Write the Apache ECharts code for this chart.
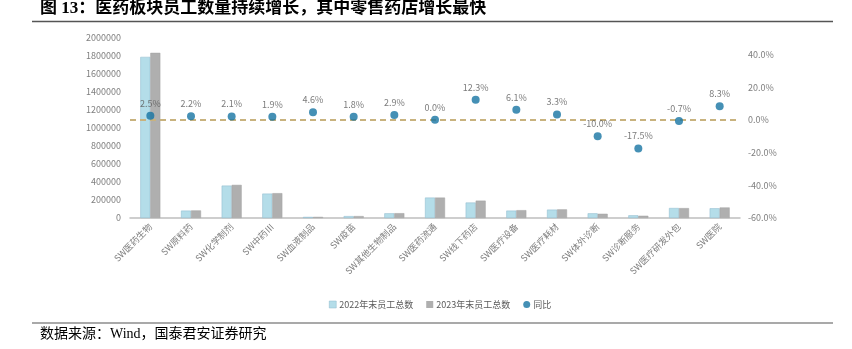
<!DOCTYPE html>
<html>
<head>
<meta charset="utf-8">
<script src="https://cdn.jsdelivr.net/npm/echarts@6/dist/echarts.min.js"></script>
<style>
html,body{margin:0;padding:0;background:#fff;}
#c{width:852px;height:349px;}
</style>
</head>
<body>
<div id="c"></div>
<script>
const categories = ['SW医药生物','SW原料药','SW化学制剂','SW中药Ⅲ','SW血液制品','SW疫苗','SW其他生物制品','SW医药流通','SW线下药店','SW医疗设备','SW医疗耗材','SW体外诊断','SW诊断服务','SW医疗研发外包','SW医院'];
const staff2022 = [1790000, 82000, 360000, 271000, 12000, 21000, 52000, 227000, 172000, 82000, 93000, 52000, 30000, 111000, 108000];
const staff2023 = [1835000, 84000, 368000, 276000, 12500, 21500, 53500, 227000, 193000, 87000, 96000, 47000, 25000, 110000, 117000];
const yoy = [2.5, 2.2, 2.1, 1.9, 4.6, 1.8, 2.9, 0.0, 12.3, 6.1, 3.3, -10.0, -17.5, -0.7, 8.3];
const seriesNames = ['2022年末员工总数', '2023年末员工总数', '同比'];
const titleText = '图 13：医药板块员工数量持续增长，其中零售药店增长最快';
const sourceText = '数据来源：Wind，国泰君安证券研究';

const chart = echarts.init(document.getElementById('c'), null, {renderer: 'canvas'});
const sans = "'Noto Sans CJK SC', 'Noto Sans', sans-serif";
const serif = "'Liberation Serif', 'Noto Sans CJK SC', serif";
chart.setOption({
  animation: false,
  textStyle: {fontFamily: sans},
  graphic: [
    {type: 'text', left: 40, top: 0, style: {text: titleText, font: "bold 17px " + serif, fill: '#000'}},
    {type: 'line', shape: {x1: 32, y1: 21.5, x2: 833, y2: 21.5}, style: {stroke: '#555', lineWidth: 1.5}},
    {type: 'line', shape: {x1: 32, y1: 323, x2: 833, y2: 323}, style: {stroke: '#555', lineWidth: 1.2}},
    {type: 'text', left: 40, top: 327, style: {text: sourceText, font: "14px " + serif, fill: '#000'}}
  ],
  grid: {left: 130, right: 112, top: 38, bottom: 131, containLabel: false},
  legend: {
    left: 324, top: 295,
    itemGap: 13, itemWidth: 7, itemHeight: 7,
    textStyle: {fontSize: 9, color: '#595959', fontFamily: sans, padding: [0, 0, 0, -2]},
    data: [
      {name: seriesNames[0], icon: 'rect', itemStyle: {color: '#B4DDE9', borderColor: '#8DB9CC', borderWidth: 0.5}},
      {name: seriesNames[1], icon: 'rect', itemStyle: {color: '#AFAFAF', borderWidth: 0}},
      {name: seriesNames[2], icon: 'circle', itemStyle: {color: '#1774A3'}}
    ]
  },
  xAxis: {
    type: 'category',
    data: categories,
    axisLine: {lineStyle: {color: '#BFBFBF', width: 1.5}},
    axisTick: {show: false},
    axisLabel: {rotate: 45, interval: 0, fontSize: 9, color: '#7F7F7F', margin: 7}
  },
  yAxis: [
    {
      type: 'value', min: 0, max: 2000000, interval: 200000,
      axisLine: {show: false}, axisTick: {show: false}, splitLine: {show: false},
      axisLabel: {fontSize: 9, color: '#7F7F7F', margin: 9, formatter: function (v) { return String(v); }}
    },
    {
      type: 'value', min: -60, max: 50, interval: 20, position: 'right',
      axisLine: {show: false}, axisTick: {show: false}, splitLine: {show: false},
      axisLabel: {
        fontSize: 9, color: '#7F7F7F', margin: 8,
        formatter: function (v) { return (Math.round(v) % 20 === 0) ? v.toFixed(1) + '%' : ''; }
      }
    }
  ],
  series: [
    {
      name: seriesNames[0], type: 'bar', data: staff2022, barWidth: 10, barGap: '0%',
      itemStyle: {color: '#B4DDE9', borderColor: '#8DB9CC', borderWidth: 0.5}
    },
    {
      name: seriesNames[1], type: 'bar', data: staff2023, barWidth: 10, barGap: '0%',
      itemStyle: {color: '#AFAFAF', borderColor: '#A2A2A2', borderWidth: 0.5}
    },
    {
      name: seriesNames[2], type: 'scatter', yAxisIndex: 1, data: yoy, symbolSize: 8, z: 5,
      itemStyle: {color: '#1774A3'},
      label: {show: true, position: 'top', distance: 4, fontSize: 9, color: '#595959',
        formatter: function (p) { return p.value.toFixed(1) + '%'; }},
      markLine: {
        silent: true, symbol: 'none', z: 3,
        label: {show: false},
        lineStyle: {type: [6, 4], color: '#C8B27E', width: 2},
        data: [{yAxis: 0}]
      }
    }
  ]
});
</script>
</body>
</html>
